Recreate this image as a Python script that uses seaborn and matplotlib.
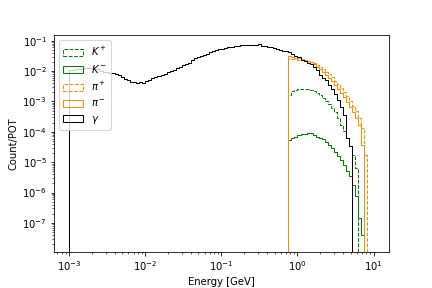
import numpy as np
import pandas as pd
import matplotlib
matplotlib.use("Agg")
import matplotlib.pyplot as plt
from matplotlib.patches import Patch
import seaborn as sns

# --- bins: 100 log bins from 1 MeV to 10 GeV ---
edges = np.logspace(-3, 1, 101)

# --- Count/POT per bin ---
gamma = [0.0106, 0.0110, 0.0115, 0.0119, 0.0115, 0.0124, 0.0129, 0.0124, 0.0119, 0.0115,
         0.00985, 0.00913, 0.00913, 0.00879, 0.00879, 0.00815, 0.00727, 0.00648, 0.00557, 0.00497,
         0.00444, 0.00427, 0.00411, 0.00427, 0.00411, 0.00479, 0.00516, 0.00601, 0.00648, 0.00700,
         0.00727, 0.00815, 0.00913, 0.0102, 0.0106, 0.0129, 0.0133, 0.0155, 0.0174, 0.0181,
         0.0236, 0.0264, 0.0285, 0.0308, 0.0332, 0.0372, 0.0417, 0.0450, 0.0486, 0.0524,
         0.0544, 0.0565, 0.0610, 0.0634, 0.0658, 0.0684, 0.0710, 0.0710, 0.0710, 0.0710,
         0.0710, 0.0738, 0.0766, 0.0684, 0.0658, 0.0634, 0.0610, 0.0565, 0.0524, 0.0486,
         0.0468, 0.0450, 0.0434, 0.0372, 0.0320, 0.0285, 0.0236, 0.0210, 0.0188, 0.0174,
         0.0139, 0.0110, 0.00755, 0.00601, 0.00516, 0.00353, 0.00261, 0.00178, 0.00113, 6.6e-4,
         3.6e-4, 6.3e-5, 3.4e-5]
k_plus = [1.65e-3, 2.24e-3, 2.42e-3, 2.51e-3, 2.61e-3, 2.61e-3, 2.51e-3, 2.42e-3, 2.15e-3, 1.92e-3,
          1.65e-3, 1.31e-3, 1.05e-3, 8.3e-4, 6.15e-4, 4.5e-4, 2.9e-4, 1.7e-4, 1.07e-4, 6.3e-5,
          3.4e-5, 1.7e-5, 6.4e-6]
k_minus = [5.4e-5, 6.3e-5, 6.8e-5, 7.9e-5, 8.5e-5, 8.5e-5, 8.85e-5, 8.85e-5, 7.9e-5, 6.8e-5,
           6.3e-5, 5.8e-5, 4.6e-5, 3.7e-5, 2.9e-5, 2.17e-5, 1.6e-5, 1.18e-5, 8.1e-6, 5.1e-6,
           3.5e-6, 1.77e-6, 7.7e-7, 1.44e-7, 4.0e-8]
pi_plus = [0.0255, 0.0245, 0.0245, 0.0236, 0.0236, 0.0227, 0.0219, 0.0203, 0.0181, 0.0161,
           0.0139, 0.0115, 0.00948, 0.00783, 0.00624, 0.00479, 0.00366, 0.00281, 0.00207, 0.00153,
           0.00105, 7.2e-4, 4.9e-4, 2.9e-4, 1.35e-4, 1.7e-5]
pi_minus = [0.0308, 0.0296, 0.0275, 0.0264, 0.0255, 0.0236, 0.0219, 0.0195, 0.0167, 0.0139,
            0.0115, 0.00948, 0.00755, 0.00601, 0.00460, 0.00340, 0.00261, 0.00192, 0.00136, 9.7e-4,
            6.6e-4, 4.5e-4, 2.9e-4, 1.7e-4, 3.7e-5]

# first filled bin of each spectrum
gamma_start = 0
hadron_start = 72

labels = [r"$K^+$", r"$K^-$", r"$\pi^+$", r"$\pi^-$", r"$\gamma$"]
colors = ["green", "green", "darkorange", "darkorange", "black"]
styles = ["--", "-", "--", "-", "-"]

series = [(k_plus, hadron_start), (k_minus, hadron_start), (pi_plus, hadron_start),
          (pi_minus, hadron_start), (gamma, gamma_start)]

# one empty bin on each side so the outline drops to the axis
pad_edges = np.concatenate([[edges[0] ** 2 / edges[1]], edges, [edges[-1] ** 2 / edges[-2]]])
centers = np.sqrt(edges[:-1] * edges[1:])

rows = []
for lab, (vals, start) in zip(labels, series):
    for i, v in enumerate(vals):
        rows.append({"particle": lab, "energy": centers[start + i], "count": v})
df = pd.DataFrame(rows)

fig, ax = plt.subplots(figsize=(6, 4), dpi=72)
for lab, c, ls in zip(labels, colors, styles):
    sns.histplot(data=df[df.particle == lab], x="energy", weights="count", bins=list(pad_edges),
                 element="step", fill=False, color=c, linestyle=ls, linewidth=1, ax=ax)

ax.set_xscale("log")
ax.set_yscale("log")
ax.set_xlim(10 ** -3.2, 10 ** 1.2)
ax.set_ylim(10 ** -7.96, 10 ** -0.825)
ax.set_xlabel("Energy [GeV]")
ax.set_ylabel("Count/POT")

handles = [Patch(facecolor="none", edgecolor=c, linestyle=ls, linewidth=1)
           for c, ls in zip(colors, styles)]
ax.legend(handles, labels, loc="upper left")

fig.subplots_adjust(left=0.125, right=0.9, top=0.877, bottom=0.125)
fig.savefig("out.png", dpi=72)
